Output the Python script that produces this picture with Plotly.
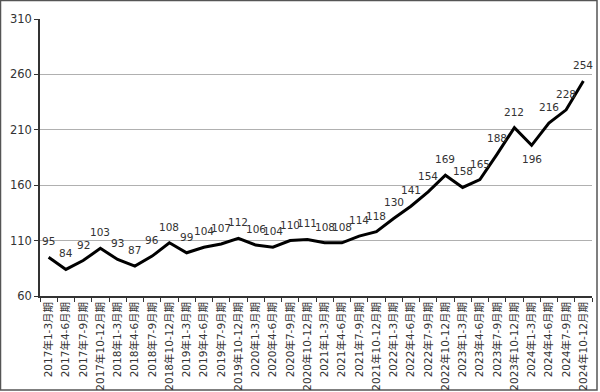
import plotly.graph_objects as go

categories = [
    "2017年1-3月期", "2017年4-6月期", "2017年7-9月期", "2017年10-12月期",
    "2018年1-3月期", "2018年4-6月期", "2018年7-9月期", "2018年10-12月期",
    "2019年1-3月期", "2019年4-6月期", "2019年7-9月期", "2019年10-12月期",
    "2020年1-3月期", "2020年4-6月期", "2020年7-9月期", "2020年10-12月期",
    "2021年1-3月期", "2021年4-6月期", "2021年7-9月期", "2021年10-12月期",
    "2022年1-3月期", "2022年4-6月期", "2022年7-9月期", "2022年10-12月期",
    "2023年1-3月期", "2023年4-6月期", "2023年7-9月期", "2023年10-12月期",
    "2024年1-3月期", "2024年4-6月期", "2024年7-9月期", "2024年10-12月期",
]
values = [95, 84, 92, 103, 93, 87, 96, 108, 99, 104, 107, 112, 106, 104, 110, 111,
          108, 108, 114, 118, 130, 141, 154, 169, 158, 165, 188, 212, 196, 216, 228, 254]
below_labels = {"2024年1-3月期"}
y_ticks = [60, 110, 160, 210, 260, 310]

FONT = "DejaVu Sans, Verdana, Noto Sans CJK JP, sans-serif"

fig = go.Figure()
fig.add_trace(go.Scatter(
    x=categories, y=values, mode="lines",
    line=dict(color="#000000", width=3),
    hoverinfo="skip", showlegend=False,
))

for c, v in zip(categories, values):
    fig.add_annotation(
        x=c, y=v, text=str(v), showarrow=False,
        yshift=-14 if c in below_labels else 16,
        font=dict(family=FONT, size=10.5, color="#333333"),
    )

fig.add_shape(type="rect", xref="paper", yref="paper",
              x0=-39.5/552, x1=(597-40)/552, y0=(296-390)/277, y1=(296-0.5)/277,
              line=dict(color="#555555", width=1.5), fillcolor="rgba(0,0,0,0)", layer="below")

fig.update_layout(
    width=600, height=392,
    margin=dict(l=40, r=8, t=19, b=96, autoexpand=False),
    paper_bgcolor="white", plot_bgcolor="white",
    font=dict(family=FONT, size=11, color="#333333"),
    xaxis=dict(
        type="category", tickangle=-90, tickson="boundaries",
        ticks="outside", ticklen=4, tickcolor="#333333",
        showline=True, linecolor="#333333", linewidth=1.5,
        showgrid=False, tickfont=dict(size=10.5, family=FONT, color="#333333"),
        range=[-0.5, len(categories) - 0.5], automargin=False,
    ),
    yaxis=dict(
        range=[60, 310], tickvals=y_ticks,
        ticks="outside", ticklen=4, tickcolor="#333333",
        showline=True, linecolor="#333333", linewidth=1.5,
        showgrid=True, gridcolor="#b0b0b0", gridwidth=1,
        zeroline=False, tickfont=dict(size=11.5, family=FONT, color="#333333"),
        automargin=False,
    ),
)

fig.write_html("out.html", config={"displayModeBar": False},
               post_script="document.body.style.margin='0';document.body.style.overflow='hidden';")
